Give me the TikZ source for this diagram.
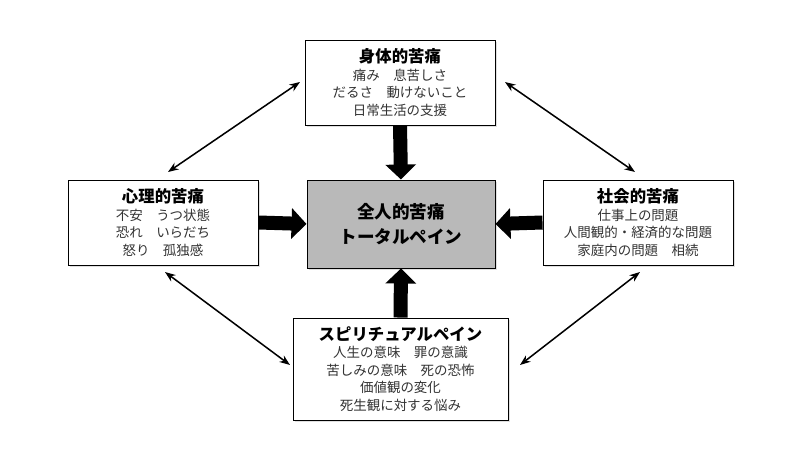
\documentclass[tikz,border=0pt]{standalone}
\usepackage{fontspec}
\setmainfont{Noto Sans CJK JP}
\usetikzlibrary{arrows.meta,shadows}
\begin{document}
\begin{tikzpicture}[x=0.03cm,y=-0.03cm]
  \tikzset{
    pain/.style={draw, thick, fill=white, align=center, font=\fontsize{11.5}{15}\selectfont,
      inner sep=1pt, text=black!80,
      drop shadow={shadow xshift=2pt, shadow yshift=-2pt, fill=gray!50}},
    push/.style={line width=0.42cm, -{Triangle[width=0.9cm, length=0.45cm]}},
    link/.style={line width=1.3pt, {Stealth[length=9pt]}-{Stealth[length=9pt]}}
  }
  \newcommand\painhead[1]{{\color{black}\bfseries\fontsize{14}{15}\selectfont #1}}
  \useasboundingbox (0,0) rectangle (800,450);
  % corner boxes
  \node[pain, minimum width=190*0.03cm, minimum height=85*0.03cm] (body) at (400,82.5)
    {\painhead{身体的苦痛}\\痛み\quad 息苦しさ\\だるさ\quad 動けないこと\\日常生活の支援};
  \node[pain, minimum width=190*0.03cm, minimum height=85*0.03cm] (mind) at (163,222.5)
    {\painhead{心理的苦痛}\\不安\quad うつ状態\\恐れ\quad いらだち\\怒り\quad 孤独感};
  \node[pain, minimum width=190*0.03cm, minimum height=85*0.03cm] (social) at (638,222.5)
    {\painhead{社会的苦痛}\\仕事上の問題\\人間観的・経済的な問題\\家庭内の問題\quad 相続};
  \node[pain, minimum width=215*0.03cm, minimum height=102*0.03cm] (spirit) at (400.5,369)
    {\painhead{スピリチュアルペイン}\\人生の意味\quad 罪の意識\\苦しみの意味\quad 死の恐怖\\価値観の変化\\死生観に対する悩み};
  % center
  \node[pain, fill=gray!55, text=black, minimum width=188*0.03cm, minimum height=88*0.03cm,
    font=\bfseries\fontsize{15}{21}\selectfont] (total) at (401,224) {全人的苦痛\\トータルペイン};
  % block arrows
  \draw[push] (body.south) -- (total.north);
  \draw[push] (mind.east) -- (total.west);
  \draw[push] (social.west) -- (total.east);
  \draw[push] (spirit.north) -- (total.south);
  % links
  \coordinate (ul1) at (168,172); \coordinate (ul2) at (300,82);
  \coordinate (ur1) at (505,82);  \coordinate (ur2) at (635,172);
  \coordinate (ll1) at (165,272); \coordinate (ll2) at (290,365);
  \coordinate (lr1) at (520,365); \coordinate (lr2) at (640,272);
  \draw[link] (ul1) -- (ul2);
  \draw[link] (ur1) -- (ur2);
  \draw[link] (ll1) -- (ll2);
  \draw[link] (lr1) -- (lr2);
\end{tikzpicture}
\end{document}
